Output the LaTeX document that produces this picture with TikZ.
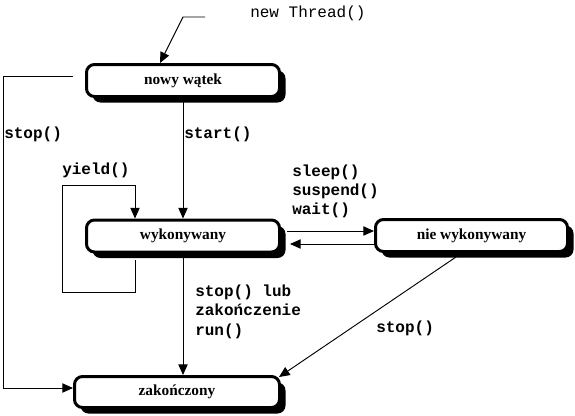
\documentclass[tikz,border=0pt]{standalone}
\usepackage{fontspec}
\setmainfont{Liberation Serif}
\newfontfamily\codefont{Liberation Mono}
\usetikzlibrary{arrows.meta,shadows}
\begin{document}
\begin{tikzpicture}[x=0.75pt,y=-0.75pt,
  state/.style={draw, line width=2.25pt, rounded corners=6pt, fill=white,
    minimum width=144.75pt, minimum height=24pt, inner sep=0pt,
    font=\fontsize{11.5}{13}\selectfont\bfseries,
    drop shadow={shadow xshift=4.5pt, shadow yshift=-4.5pt, fill=black, opacity=1}},
  conn/.style={line width=0.7pt, -{Triangle[length=8pt,width=7pt]}},
  plain/.style={line width=0.7pt},
  lbl/.style={font=\fontsize{12}{14.5}\selectfont\codefont\bfseries, inner sep=0pt, anchor=base west},
  lblr/.style={font=\fontsize{12}{14.5}\selectfont\codefont, inner sep=0pt, anchor=base west},
]
\useasboundingbox (0,0) rectangle (575,415);

% states
\node[state] (nowy) at (183,80.5) {nowy wątek};
\node[state] (wyk) at (183,236) {wykonywany};
\node[state, minimum width=144pt] (nie) at (471.5,235.5) {nie wykonywany};
\node[state, minimum width=153.75pt, minimum height=23.25pt] (zak) at (177,392) {zakończony};

% labels
\node[lblr] (nt) at (250,17) {new Thread()};
\node[lbl] (lstopl) at (4,138) {stop()};
\node[lbl] (lstart) at (184,138) {start()};
\node[lbl] (lyield) at (62,174) {yield()};
\node[lbl] (lsleep) at (292,176) {sleep()};
\node[lbl] (lsusp) at (292,195) {suspend()};
\node[lbl] (lwait) at (292,214) {wait()};
\node[lbl] (llub) at (195,296) {stop() lub};
\node[lbl] (lzak) at (195,315.5) {zakończenie};
\node[lbl] (lrun) at (195,335) {run()};
\node[lbl] (lstopr) at (376,332) {stop()};

% coordinates
\coordinate (ntA) at (205,17);
\coordinate (ntB) at (183,17);
\coordinate (ntx) at (160,0);
\coordinate (sl1) at (73,76);
\coordinate (sl2) at (3,76);
\coordinate (sl3) at (3,388);
\coordinate (y1) at (135,260);
\coordinate (y2) at (135,292);
\coordinate (y3) at (62,292);
\coordinate (y4) at (62,185);
\coordinate (y5) at (135,185);
\coordinate (a1) at (287,231);
\coordinate (a2) at (290,244);
\coordinate (d1) at (456,257);
\coordinate (d2) at (279,377);

% connectors
\draw[conn] (ntA) -- (ntB) -- (ntx |- nowy.north);
\draw[conn] (sl1) -- (sl2) -- (sl3) -- (sl3 -| zak.west);
\draw[conn] (nowy.south) -- (wyk.north);
\draw[conn] (y1) -- (y2) -- (y3) -- (y4) -- (y5) -- (y5 |- wyk.north);
\draw[conn] (a1) -- (a1 -| nie.west);
\draw[conn] (a2 -| nie.west) -- (a2);
\draw[conn] (wyk.south) -- (wyk.south |- zak.north);
\draw[conn] (d1) -- (d2);
\end{tikzpicture}
\end{document}
